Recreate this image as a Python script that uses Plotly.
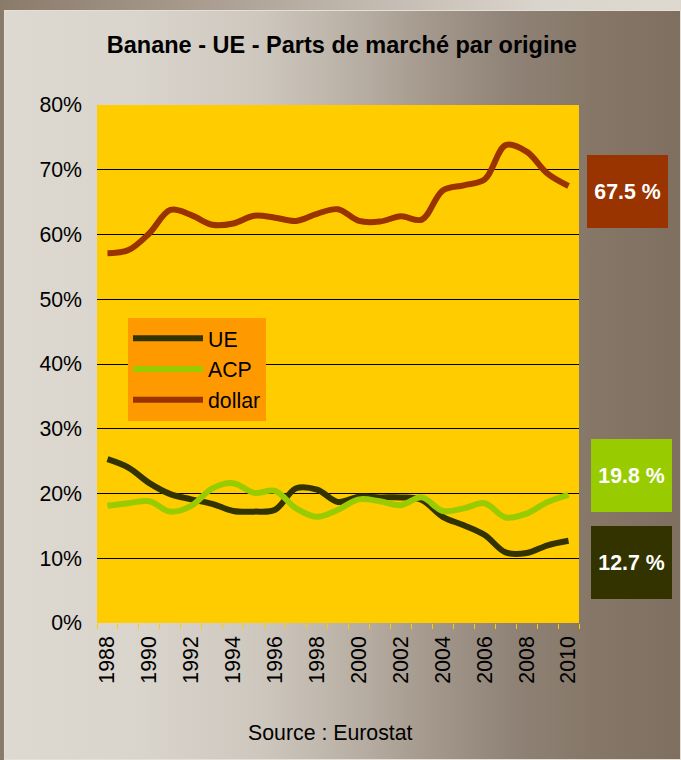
import base64
import plotly.graph_objects as go

# ---------------- data ----------------
years = list(range(1988, 2011))
ue = [25.3, 24.0, 21.6, 19.9, 19.1, 18.4, 17.3, 17.2, 17.5, 20.8, 20.6, 18.7,
      19.5, 19.4, 19.4, 19.0, 16.4, 15.1, 13.6, 10.9, 10.8, 12.0, 12.7]
acp = [18.1, 18.5, 18.8, 17.2, 18.1, 20.8, 21.6, 20.1, 20.4, 17.7, 16.4, 17.5,
       19.1, 18.8, 18.2, 19.4, 17.3, 17.7, 18.5, 16.3, 16.9, 18.7, 19.8]
dollar = [57.1, 57.6, 60.2, 63.8, 63.0, 61.5, 61.7, 62.9, 62.6, 62.1, 63.2, 63.9,
          62.1, 62.0, 62.8, 62.3, 66.8, 67.6, 68.5, 73.8, 72.8, 69.4, 67.5]
series_names = ["UE", "ACP", "dollar"]
year_ticks = list(range(1988, 2011, 2))
pct_ticks = [0, 0.1, 0.2, 0.3, 0.4, 0.5, 0.6, 0.7, 0.8]
title_text = "Banane - UE - Parts de marché par origine"
source_text = "Source : Eurostat"

# ---------------- styles ----------------
W, H = 681, 760
L, R, T, B = 97, 102, 105, 137
PW, PH = W - L - R, H - T - B
FONT = "Arial, Liberation Sans, sans-serif"
FS = 21.3
C_UE, C_ACP, C_DOL = "#333300", "#99CC00", "#993300"

svg = f'''<svg xmlns="http://www.w3.org/2000/svg" width="{W}" height="{H}" viewBox="0 0 {W} {H}" preserveAspectRatio="none">
<defs>
<linearGradient id="a" x1="0" y1="0" x2="1" y2="0">
<stop offset="0" stop-color="#8A7A6A"/><stop offset="0.45" stop-color="#B9AFA4"/><stop offset="0.8" stop-color="#DAD5CD"/><stop offset="1" stop-color="#DDD9D1"/>
</linearGradient>
<linearGradient id="b" x1="0" y1="0" x2="1" y2="0">
<stop offset="0" stop-color="#DDD9D1"/><stop offset="0.2" stop-color="#D9D4CC"/><stop offset="0.38" stop-color="#CEC7BE"/>
<stop offset="0.5" stop-color="#BCB3A8"/><stop offset="0.62" stop-color="#A69A8E"/><stop offset="0.75" stop-color="#8F8276"/>
<stop offset="0.88" stop-color="#857666"/><stop offset="1" stop-color="#7F6F60"/>
</linearGradient>
</defs>
<rect x="0" y="0" width="{W}" height="{H}" fill="url(#a)"/>
<rect x="4" y="10" width="{W-4}" height="{H-10}" fill="url(#b)"/>
<rect x="4.5" y="10.5" width="{W-5}" height="{H-11}" fill="none" stroke="#E4E0D8" stroke-width="1"/>
</svg>'''
bg_src = "data:image/svg+xml;base64," + base64.b64encode(svg.encode()).decode()

fig = go.Figure()
for name, vals, col in [("UE", ue, C_UE), ("ACP", acp, C_ACP), ("dollar", dollar, C_DOL)]:
    fig.add_trace(go.Scatter(
        x=years, y=[v / 100 for v in vals], name=name, mode="lines",
        line=dict(color=col, width=6, shape="spline", smoothing=1),
        hoverinfo="skip",
    ))

fig.update_layout(
    width=W, height=H,
    margin=dict(l=L, r=R, t=T, b=B),
    paper_bgcolor="#DDD9D1",
    plot_bgcolor="#FFCC00",
    font=dict(family=FONT, size=FS, color="black"),
    title=dict(text=f"<b>{title_text}</b>", x=0.502, xref="container", xanchor="center",
               y=1 - 45 / H, yref="container", yanchor="middle",
               font=dict(family=FONT, size=23.5, color="black")),
    showlegend=True,
    legend=dict(x=(128 - L) / PW, y=1 - (318 - T) / PH, xanchor="left", yanchor="top",
                bgcolor="#FF9900", borderwidth=0, font=dict(size=FS, family=FONT),
                itemwidth=70, tracegroupgap=0),
    images=[dict(source=bg_src, xref="paper", yref="paper",
                 x=-L / PW, y=1 + T / PH, sizex=W / PW, sizey=H / PH,
                 xanchor="left", yanchor="top", sizing="stretch", layer="below")],
    shapes=[dict(type="rect", xref="x domain", yref="y domain", x0=0, x1=1, y0=0, y1=1,
                 fillcolor="#FFCC00", line=dict(width=0), layer="below")],
)

fig.update_xaxes(
    range=[1987.5, 2010.5], tickmode="array", tickvals=year_ticks,
    ticktext=[str(y) for y in year_ticks], tickangle=-90, ticks="",
    showgrid=False, zeroline=False, showline=False,
    ticklabelstandoff=8,
    minor=dict(tickmode="array", tickvals=[y - 0.5 for y in years] + [2010.5],
               ticks="outside", ticklen=5, tickwidth=1, tickcolor="#FFCC00", showgrid=False),
)
fig.update_yaxes(
    range=[0, 0.8], tickmode="array", tickvals=pct_ticks, tickformat=".0%",
    ticks="", showgrid=False, zeroline=False, showline=False,
    ticklabelstandoff=14,
    minor=dict(tickmode="array", tickvals=pct_ticks[1:-1], showgrid=True,
               gridcolor="black", gridwidth=1, ticks=""),
)

fig.add_annotation(text=source_text, xref="paper", yref="paper",
                   x=(330 - L) / PW, y=(623 - 733) / PH, showarrow=False,
                   xanchor="center", yanchor="middle", font=dict(size=FS, family=FONT))

boxes = [
    (dollar[-1], C_DOL, 627, 191),
    (acp[-1], C_ACP, 631, 475),
    (ue[-1], C_UE, 631, 562),
]
for val, col, cx, cy in boxes:
    fig.add_annotation(text=f"<b>{val:.1f} %</b>", xref="paper", yref="paper",
                       x=(cx - L) / PW, y=(623 - cy) / PH, showarrow=False,
                       xanchor="center", yanchor="middle", width=81, height=73,
                       bgcolor=col, borderpad=0, borderwidth=0,
                       font=dict(color="white", size=FS, family=FONT))

fig.write_html("out.html", config={"displayModeBar": False},
               post_script="document.body.style.margin='0';")
